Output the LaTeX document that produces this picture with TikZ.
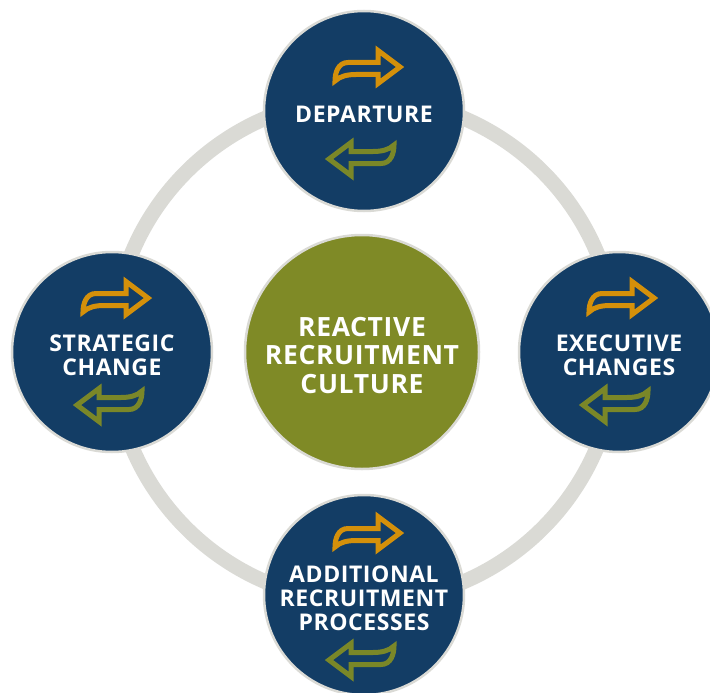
\documentclass[tikz,border=0pt]{standalone}
\usepackage{fontspec}
\setmainfont{Open Sans}[LetterSpace=2.5]
\definecolor{navy}{HTML}{133D65}
\definecolor{olivefill}{HTML}{7F8A26}
\definecolor{arrorange}{HTML}{D4900A}
\definecolor{arrolive}{HTML}{7A8728}
\definecolor{ringgray}{HTML}{DADAD5}
\tikzset{
  stage/.style={circle, fill=navy, draw=ringgray, line width=2.5pt, minimum size=200pt, inner sep=0pt},
  hub/.style={circle, fill=olivefill, draw=ringgray, line width=2.5pt, minimum size=234pt, inner sep=0pt},
  stagetext/.style={text=white, align=center, inner sep=0pt, yshift=-3.5pt, font=\bfseries\fontsize{23}{24}\selectfont},
  hubtext/.style={text=white, align=center, inner sep=0pt, yshift=-3.5pt, font=\bfseries\fontsize{26.5}{28.3}\selectfont},
  uturn/.pic={
    \draw[line width=5pt, line join=miter, #1]
      (32,0) -- (10,-16.5) -- (10,-4.5) -- (-20,-4.5)
      .. controls (-30,-4.5) and (-33,6) .. (-33,14)
      .. controls (-28,9) and (-20,7.5) .. (-12,7.5)
      -- (10,7.5) -- (10,16.5) -- cycle;
  },
}
\begin{document}
\begin{tikzpicture}[x=1pt, y=-1pt]
\useasboundingbox (0,0) rectangle (710,693);
\draw[ringgray, line width=15pt] (364.5,350) circle[radius=252];
\node[hub] (hub) at (362,352) {};
\node[stage] (dep) at (364,111) {};
\node[stage] (exe) at (619,352) {};
\node[stage] (add) at (364,595) {};
\node[stage] (str) at (112,352) {};
\node[hubtext] (hubT) at (hub.center) {REACTIVE\\RECRUITMENT\\CULTURE};
\node[stagetext] (depT) at (dep.center) {DEPARTURE};
\node[stagetext] (exeT) at (exe.center) {EXECUTIVE\\CHANGES};
\node[stagetext] (addT) at (add.center) {ADDITIONAL\\RECRUITMENT\\PROCESSES};
\node[stagetext] (strT) at (str.center) {STRATEGIC\\CHANGE};
% arrows
\pic at ([shift={(4,-44)}]dep.center) {uturn=arrorange};
\pic[rotate=180] at ([shift={(-3,48)}]dep.center) {uturn=arrolive};
\pic at ([shift={(3,-54)}]exe.center) {uturn=arrorange};
\pic[rotate=180] at ([shift={(-4,53)}]exe.center) {uturn=arrolive};
\pic at ([shift={(4,-54)}]str.center) {uturn=arrorange};
\pic[rotate=180] at ([shift={(-3,53)}]str.center) {uturn=arrolive};
\pic at ([shift={(4,-62)}]add.center) {uturn=arrorange};
\pic[rotate=180] at ([shift={(-3,65)}]add.center) {uturn=arrolive};
\end{tikzpicture}
\end{document}
